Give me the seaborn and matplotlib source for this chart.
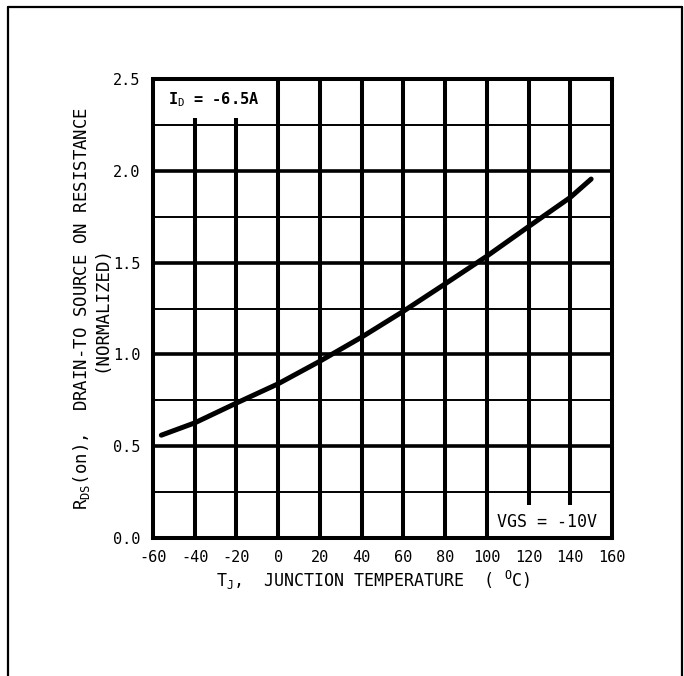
import matplotlib
matplotlib.use("Agg")
import matplotlib.pyplot as plt
from matplotlib.lines import Line2D
import seaborn as sns
import pandas as pd

# Data
temperature = [-56, -40, -20, 0, 20, 40, 60, 80, 100, 120, 140, 150]
rds_norm = [0.56, 0.627, 0.735, 0.84, 0.963, 1.094, 1.235, 1.384, 1.535, 1.696, 1.855, 1.955]
x_ticks = [-60, -40, -20, 0, 20, 40, 60, 80, 100, 120, 140, 160]
y_ticks = [0.0, 0.5, 1.0, 1.5, 2.0, 2.5]
y_minor = [0.25, 0.75, 1.25, 1.75, 2.25]

sns.set_style("white")
plt.rcParams["font.family"] = ["DejaVu Sans Mono", "DejaVu Sans"]
plt.rcParams["mathtext.fontset"] = "custom"
plt.rcParams["mathtext.rm"] = "DejaVu Sans Mono"
plt.rcParams["mathtext.it"] = "DejaVu Sans Mono"
plt.rcParams["text.color"] = "black"
plt.rcParams["axes.labelcolor"] = "black"
plt.rcParams["xtick.color"] = "black"
plt.rcParams["ytick.color"] = "black"

df = pd.DataFrame({"T": temperature, "R": rds_norm})

fig = plt.figure(figsize=(6.84, 6.76), dpi=100)
ax = fig.add_axes([153 / 684, 1 - 538 / 676, (612 - 153) / 684, (538 - 79) / 676])

# grid lines
for xv in x_ticks[1:-1]:
    if xv in (-40, -20):
        ax.vlines(xv, 0, 2.29, color="black", lw=2.9, zorder=1)
    elif xv in (120, 140):
        ax.vlines(xv, 0.18, 2.5, color="black", lw=2.9, zorder=1)
    else:
        ax.vlines(xv, 0, 2.5, color="black", lw=2.9, zorder=1)
for yv in y_ticks[1:-1]:
    ax.axhline(yv, color="black", lw=2.6, zorder=1)
for yv in y_minor:
    ax.axhline(yv, color="black", lw=1.4, zorder=1)

sns.lineplot(data=df, x="T", y="R", ax=ax, color="black", lw=3.6, zorder=3)

ax.set_xlim(-60, 160)
ax.set_ylim(0, 2.5)
ax.set_xticks(x_ticks)
ax.set_yticks(y_ticks)
ax.set_xticklabels([str(v) for v in x_ticks], fontsize=11)
ax.set_yticklabels([f"{v:.1f}" for v in y_ticks], fontsize=11)
ax.tick_params(axis="both", direction="out", length=3, width=1, pad=6, color="black")

for s in ax.spines.values():
    s.set_linewidth(2.9)
    s.set_color("black")

ax.set_xlabel(r"T$_\mathrm{J}$,  JUNCTION TEMPERATURE  ( $^\mathrm{O}$C)", fontsize=12)
ax.xaxis.set_label_coords((373 - 153) / 459, (538 - 569) / 459)
ax.set_ylabel(r"R$_\mathrm{DS}$(on),  DRAIN-TO SOURCE ON RESISTANCE" + "\n(NORMALIZED)",
              fontsize=12.5, linespacing=1.0)
ax.yaxis.set_label_coords((110 - 153) / 459, 0.5)

ax.text(-53, 2.39, r"I$_\mathrm{D}$ = -6.5A", fontsize=11, fontweight="bold",
        va="center", ha="left", zorder=4)
ax.text(105, 0.087, "VGS = -10V", fontsize=12, va="center", ha="left", zorder=4)

# figure frame
fig.add_artist(Line2D([8 / 684, 682 / 684], [1 - 7 / 676, 1 - 7 / 676], transform=fig.transFigure, color="black", lw=1.6))
fig.add_artist(Line2D([8 / 684, 8 / 684], [0, 1 - 7 / 676], transform=fig.transFigure, color="black", lw=1.6))
fig.add_artist(Line2D([682 / 684, 682 / 684], [0, 1 - 7 / 676], transform=fig.transFigure, color="black", lw=1.6))

fig.savefig("out.png", dpi=100)
